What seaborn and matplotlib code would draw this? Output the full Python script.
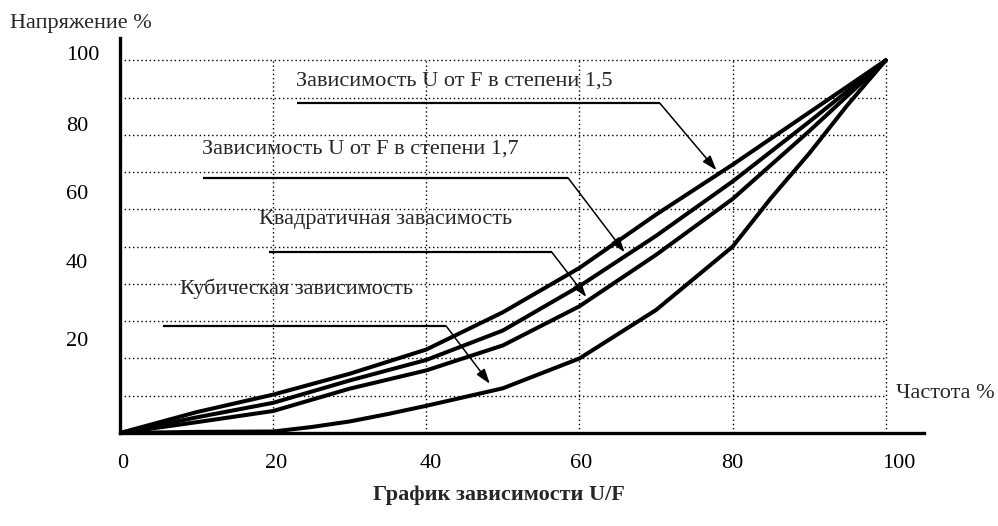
import matplotlib
matplotlib.use("Agg")
import matplotlib.pyplot as plt
import seaborn as sns
import pandas as pd

# Frequency (%) sample points and voltage (%) for each U/F law
freq = [0, 10, 20, 30, 40, 50, 60, 70, 80, 90, 100]
u_pow15 = [0, 5.6, 10.3, 15.9, 22.4, 32.4, 44.3, 58.6, 72.0, 86.0, 100]
u_pow17 = [0, 4.2, 8.1, 14.1, 19.6, 27.5, 39.4, 52.9, 67.5, 83.5, 100]
u_square = [0, 2.9, 5.9, 11.9, 16.8, 23.5, 34.0, 47.8, 62.8, 81.0, 100]

freq_cubic = [0, 10, 20, 25, 30, 35, 40, 50, 60, 70, 80, 85, 90, 95, 100]
u_cubic = [0, 0.3, 0.4, 1.6, 3.1, 5.1, 7.3, 12.0, 20.0, 33.0, 50.0, 63.0, 75.0, 88.0, 100]

series_names = [
    "Зависимость U от F в степени 1,5",
    "Зависимость U от F в степени 1,7",
    "Квадратичная завасимость",
    "Кубическая зависимость",
]

x_tick_labels = ["0", "20", "40", "60", "80", "100"]
y_tick_labels = ["100", "80", "60", "40", "20"]
grid_x = [20, 40, 60, 80, 100]
grid_y = [10, 20, 30, 40, 50, 60, 70, 80, 90, 100]

title = "График зависимости U/F"
y_title = "Напряжение %"
x_title = "Частота %"

# Label anchors (axis units) and callout geometry: text baseline, leader line, arrow tip
x_tick_pos = [0.3, 20.4, 40.6, 60.2, 80.0, 101.7]
y_tick_pos = [102.1, 82.8, 64.6, 46.1, 25.1]
callouts = [
    # text_x, text_y, line_x0, line_x1, line_y, tip_x, tip_y
    (23.0, 93.3, 23.1, 70.5, 88.5, 77.9, 70.5),
    (10.7, 75.0, 10.9, 58.5, 68.5, 65.9, 48.5),
    (18.1, 56.2, 19.4, 56.4, 48.5, 60.9, 36.5),
    (7.8, 37.4, 5.6, 42.6, 28.7, 48.3, 13.2),
]

frames = []
for name, xs, ys in [
    (series_names[0], freq, u_pow15),
    (series_names[1], freq, u_pow17),
    (series_names[2], freq, u_square),
    (series_names[3], freq_cubic, u_cubic),
]:
    frames.append(pd.DataFrame({"f": xs, "u": ys, "law": name}))
df = pd.concat(frames, ignore_index=True)

sns.set_style("white")
plt.rcParams["font.family"] = ["Liberation Serif", "DejaVu Serif"]
FS = 16
plt.rcParams["font.size"] = FS

fig = plt.figure(figsize=(9.98, 5.26), dpi=100)
W, H = 998, 526
ax = fig.add_axes([120 / W, (H - 433) / H, (924 - 120) / W, (433 - 38) / H])
ax.set_xlim(0, 105)
ax.set_ylim(0, 106)

dot = (0, (1, 2))
ax.hlines(grid_y, 0, 100, colors="black", linestyles=dot, linewidth=1.0, zorder=1)
ax.vlines(grid_x, 0, 100, colors="black", linestyles=dot, linewidth=1.0, zorder=1)

sns.lineplot(
    data=df, x="f", y="u", units="law", estimator=None, sort=False,
    color="black", linewidth=2.9, ax=ax, zorder=3, legend=False,
)

for (tx, ty, lx0, lx1, ly, ax_, ay), name in zip(callouts, series_names):
    ax.text(tx, ty, name, ha="left", va="baseline", fontsize=FS, zorder=4)
    ax.plot([lx0, lx1], [ly, ly], color="black", linewidth=1.6,
            solid_capstyle="butt", zorder=4)
    ax.annotate(
        "", xy=(ax_, ay), xytext=(lx1, ly),
        arrowprops=dict(arrowstyle="-|>,head_length=0.6,head_width=0.2",
                        color="black", lw=1.1, mutation_scale=15,
                        shrinkA=0, shrinkB=0),
        zorder=4,
    )

for side in ("top", "right"):
    ax.spines[side].set_visible(False)
for side in ("left", "bottom"):
    ax.spines[side].set_color("black")
    ax.spines[side].set_linewidth(2.4)

ax.set_xticks(x_tick_pos)
ax.set_xticklabels(x_tick_labels)
ax.set_yticks(y_tick_pos)
ax.set_yticklabels(y_tick_labels)
ax.tick_params(axis="both", length=0, labelsize=FS, colors="black")
ax.tick_params(axis="x", pad=15)
ax.tick_params(axis="y", pad=39)
for lbl in ax.get_yticklabels():
    lbl.set_horizontalalignment("left")
ax.set_xlabel("")
ax.set_ylabel("")

fig.text(10 / W, (H - 28.3) / H, y_title, ha="left", va="baseline", fontsize=FS)
fig.text(896 / W, (H - 398) / H, x_title, ha="left", va="baseline", fontsize=FS)
fig.text(499 / W, (H - 500) / H, title, ha="center", va="baseline",
         fontsize=FS, fontweight="bold")

fig.savefig("out.png", dpi=100, facecolor="white")
